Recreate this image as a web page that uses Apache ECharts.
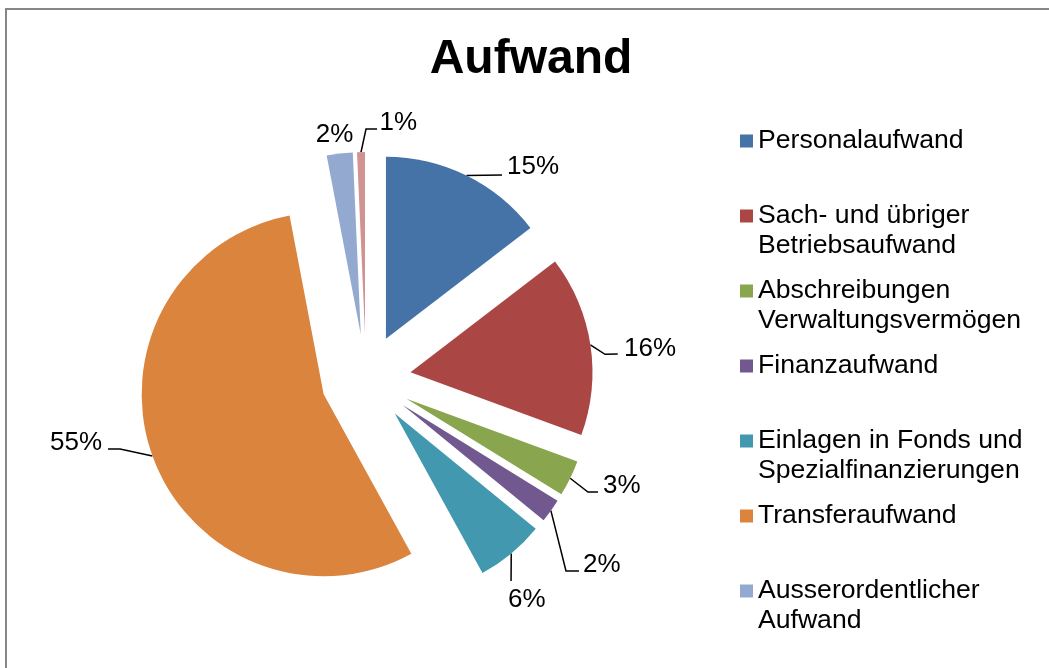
<!DOCTYPE html>
<html>
<head>
<meta charset="utf-8">
<script src="https://cdn.jsdelivr.net/npm/echarts@6/dist/echarts.min.js"></script>
<style>
html,body{margin:0;padding:0;background:#fff;}
#chart{width:1049px;height:668px;}
</style>
</head>
<body>
<div id="chart"></div>
<script>
// ---- data ----
const categories = [
  'Personalaufwand',
  'Sach- und übriger\nBetriebsaufwand',
  'Abschreibungen\nVerwaltungsvermögen',
  'Finanzaufwand',
  'Einlagen in Fonds und\nSpezialfinanzierungen',
  'Transferaufwand',
  'Ausserordentlicher\nAufwand',
  'Interne Verrechnungen'
];
const values = [14.6, 16.0, 3.2, 2.1, 6.1, 55.0, 2.3, 0.7];
const legendShown = categories.slice(0, 7);
const colors = ['#4572A7', '#AA4643', '#89A54E', '#71588F', '#4198AF', '#DB843D', '#93A9CF', '#D19392'];

// leader-line / label styling, relative to the point where the library's
// label line leaves each slice's outer arc
const leaderStyle = [
  {text: [36.5, -8.4], line: [[18, -0.2], [35.5, -0.4]]},
  {text: [29.6, 3.6],   line: [[14.6, 9.4], [27.3, 9.1]]},
  {text: [28.8, 7.3],   line: [[17.8, 13.8], [27.8, 13.8]]},
  {text: [28.1, 53.8],  line: [[15.1, 60.3], [28.1, 60.3]]},
  {text: [-7.2, 46],  line: [[-0.2, 27.5], [-0.2, 27.5]]},
  {text: [-46.4, -13.4], line: [[-32.4, -6.9], [-44.4, -6.9]]},
  {text: [17.6, -18.5], line: [[0, 0], [0, 0]]},
  {text: [60, -29],     line: [[5, -23], [16, -23]]}
];

const FONT = "'Liberation Sans', Arial, sans-serif";
const LH = 30;

const chart = echarts.init(document.getElementById('chart'), null, {renderer: 'canvas'});

chart.setOption({
  animation: false,
  backgroundColor: '#fff',
  title: {
    text: 'Aufwand',
    left: 531,
    top: 36,
    padding: 0,
    textAlign: 'center',
    textStyle: {fontFamily: FONT, fontSize: 48, fontWeight: 'bold', color: '#000'}
  },
  legend: {
    orient: 'vertical',
    left: 740,
    top: 96,
    padding: 0,
    itemGap: -15,
    itemWidth: 13,
    itemHeight: 13,
    icon: 'rect',
    selectedMode: false,
    data: legendShown,
    formatter: function (name) {
      return name.indexOf('\n') >= 0 ? ' \n' + name : ' \n' + name + '\n ';
    },
    textStyle: {
      fontFamily: FONT, fontSize: 26.6, color: '#000', lineHeight: LH,
      backgroundColor: 'rgba(255,255,255,0)'
    }
  },
  graphic: [{
    type: 'rect',
    shape: {x: 6, y: 9, width: 1200, height: 800},
    style: {fill: 'none', stroke: '#868686', lineWidth: 2},
    silent: true,
    z: 100
  }],
  series: [{
    type: 'pie',
    center: [366, 379],
    radius: [0, 182],
    startAngle: 90,
    clockwise: true,
    selectedMode: 'multiple',
    selectedOffset: 45,
    avoidLabelOverlap: true,
    percentPrecision: 0,
    itemStyle: {borderWidth: 0},
    label: {
      show: true,
      position: 'outside',
      formatter: '{d}%',
      fontFamily: FONT,
      fontSize: 26,
      color: '#000',
      distanceToLabelLine: 4
    },
    labelLine: {
      show: true,
      length: 12,
      length2: 22,
      lineStyle: {color: '#000', width: 1.5}
    },
    labelLayout: function (p) {
      const s = leaderStyle[p.dataIndex];
      const pts = p.labelLinePoints;
      if (!s || !pts) return {};
      const P1 = pts[0], P3 = pts[pts.length - 1];
      return {
        dx: P1[0] + s.text[0] - P3[0],
        dy: P1[1] + s.text[1] - P3[1],
        labelLinePoints: [[P1[0], P1[1]]].concat(s.line.map(v => [P1[0] + v[0], P1[1] + v[1]]))
      };
    },
    emphasis: {disabled: true},
    data: categories.map((n, i) => ({
      name: n,
      value: values[i],
      selected: true,
      itemStyle: {color: colors[i]}
    }))
  }]
});
</script>
</body>
</html>
